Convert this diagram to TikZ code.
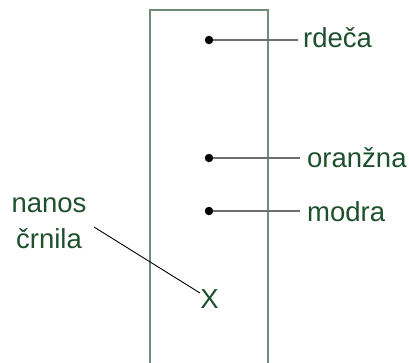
\documentclass[tikz,border=0pt]{standalone}
\usepackage{fontspec}
\setmainfont{Liberation Sans}
\definecolor{txtgreen}{RGB}{30,80,45}
\definecolor{boxgreen}{RGB}{110,140,118}
\definecolor{leadgray}{RGB}{110,110,110}
\begin{document}
\begin{tikzpicture}[x=1pt,y=-1pt,
  lbl/.style={text=txtgreen,font=\fontsize{27.5}{36}\selectfont,inner sep=0pt},
  dotmark/.style={circle,fill=black,inner sep=0pt,minimum size=8.5pt},
  lead/.style={leadgray,line width=1.5pt},
  pointer/.style={black,line width=0.9pt}]
\useasboundingbox (0,0) rectangle (409,362);
% strip
\draw[boxgreen,line width=1.3pt] (150,370) -- (150,10) -- (268,10) -- (268,370);
% dots
\node[dotmark] (d1) at (209,40) {};
\node[dotmark] (d2) at (209,158) {};
\node[dotmark] (d3) at (209,211) {};
% labels
\node[lbl,anchor=base west] (l1) at (303,47) {rdeča};
\node[lbl,anchor=base west] (l2) at (307,167) {oranžna};
\node[lbl,anchor=base west] (l3) at (307,221.5) {modra};
\draw[lead] (d1.east) -- (d1 -| 298,0);
\draw[lead] (d2.east) -- (d2 -| 300,0);
\draw[lead] (d3.east) -- (d3 -| 300,0);
% ink spot
\node[lbl,anchor=base] (x) at (209.5,308) {X};
\node[lbl,align=center,anchor=base] (ink) at (49,248) {nanos\\črnila};
\coordinate (ls) at (94,227);
\coordinate (le) at (200,293);
\draw[pointer] (ls) -- (le);
\end{tikzpicture}
\end{document}
